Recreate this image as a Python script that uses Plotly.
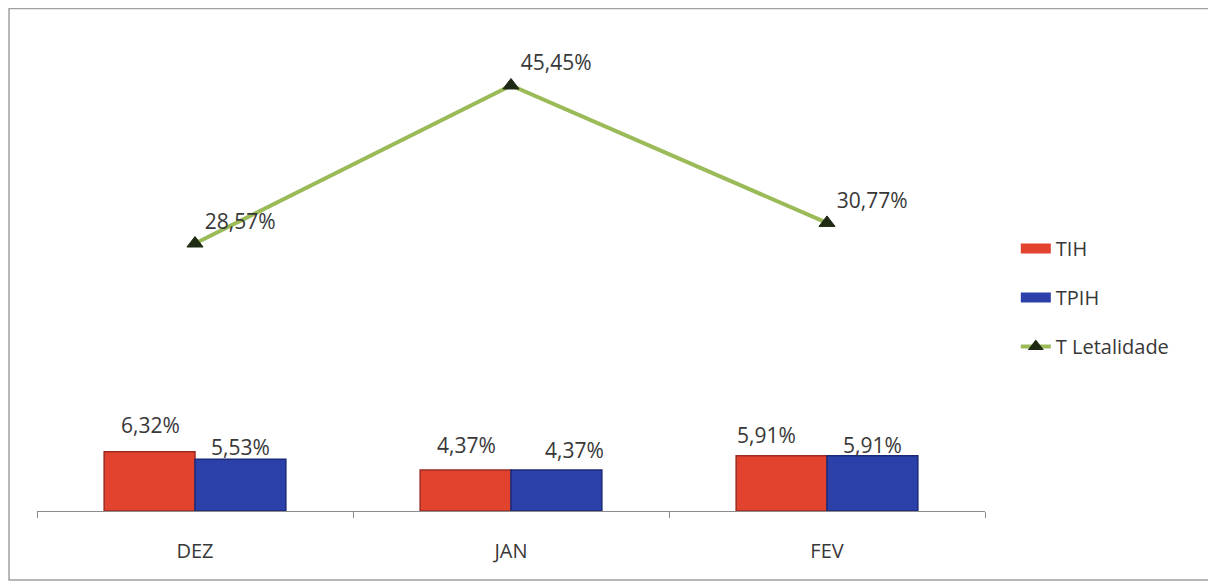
import plotly.graph_objects as go

categories = ["DEZ", "JAN", "FEV"]
tih = [6.32, 4.37, 5.91]
tpih = [5.53, 4.37, 5.91]
letalidade = [28.57, 45.45, 30.77]

def fmt(v):
    return f"{v:.2f}".replace(".", ",") + "%"

FONT = "Open Sans, Noto Sans, sans-serif"
RED, RED_D = "#E2432E", "#9E2B22"
BLUE, BLUE_D = "#2B40A8", "#1B2A78"
GREEN, MARK = "#9BBB59", "#1E2A14"
TXT = "#383838"

# label offsets (pixels) as placed in the original
BAR_HALF = 45
red_dx, red_dy = [0, 0, -16], [27, 25, 21]
blue_dx, blue_dy = [0, 18, 0], [12, 20, 11]

fig = go.Figure()
fig.add_trace(go.Bar(
    x=categories, y=tih, name="TIH", showlegend=False,
    marker=dict(color=RED, line=dict(color=RED_D, width=1.5)),
))
fig.add_trace(go.Bar(
    x=categories, y=tpih, name="TPIH", showlegend=False,
    marker=dict(color=BLUE, line=dict(color=BLUE_D, width=1.5)),
))
fig.add_trace(go.Scatter(
    x=categories, y=letalidade, name="T Letalidade", showlegend=False,
    mode="lines+markers+text",
    line=dict(color=GREEN, width=4),
    marker=dict(symbol="triangle-up", size=14, color=MARK,
                line=dict(color=MARK, width=1)),
    text=[fmt(v) for v in letalidade], textposition="top right",
    textfont=dict(size=21, color=TXT, family=FONT), cliponaxis=False,
))

# bar value labels
annotations = []
for c, v, dx, dy in zip(categories, tih, red_dx, red_dy):
    annotations.append(dict(x=c, y=v, xref="x", yref="y", text=fmt(v),
                            showarrow=False, xshift=-BAR_HALF + dx, yshift=dy,
                            font=dict(size=21, color=TXT, family=FONT)))
for c, v, dx, dy in zip(categories, tpih, blue_dx, blue_dy):
    annotations.append(dict(x=c, y=v, xref="x", yref="y", text=fmt(v),
                            showarrow=False, xshift=BAR_HALF + dx, yshift=dy,
                            font=dict(size=21, color=TXT, family=FONT)))

# legend entries (wide swatches like the original)
fig.add_trace(go.Scatter(x=[None], y=[None], name="TIH", mode="lines",
                         line=dict(color=RED, width=13), legendgroup="a"))
fig.add_trace(go.Scatter(x=[None], y=[None], name="TPIH", mode="lines",
                         line=dict(color=BLUE, width=13), legendgroup="b"))
fig.add_trace(go.Scatter(x=[None], y=[None], name="T Letalidade",
                         mode="lines+markers", legendgroup="c",
                         line=dict(color=GREEN, width=4),
                         marker=dict(symbol="triangle-up", size=14, color=MARK)))

fig.update_layout(
    width=1216, height=587,
    paper_bgcolor="white", plot_bgcolor="white",
    margin=dict(l=29, r=239, t=33, b=84),
    barmode="group", bargap=0.425, bargroupgap=0,
    font=dict(family=FONT, size=20, color=TXT),
    showlegend=True,
    annotations=annotations,
    legend=dict(x=1.0325, y=0.6, xanchor="left", yanchor="top",
                font=dict(size=20, color=TXT, family=FONT),
                tracegroupgap=20, bgcolor="rgba(0,0,0,0)"),
    xaxis=dict(showline=True, linecolor="#8C8C8C", linewidth=1,
               ticks="outside", tickson="boundaries", ticklen=6,
               tickcolor="#8C8C8C", showgrid=False, ticklabelstandoff=22,
               tickfont=dict(size=20, color=TXT, family=FONT)),
    yaxis=dict(range=[0, 50.2], visible=False, showgrid=False, zeroline=False),
    shapes=[dict(type="rect", xref="paper", yref="paper",
                 x0=-0.0295, x1=1.2395, y0=-0.1468, y1=1.069,
                 line=dict(color="#A0A0A0", width=1.5))],
)

fig.write_html("out.html")
